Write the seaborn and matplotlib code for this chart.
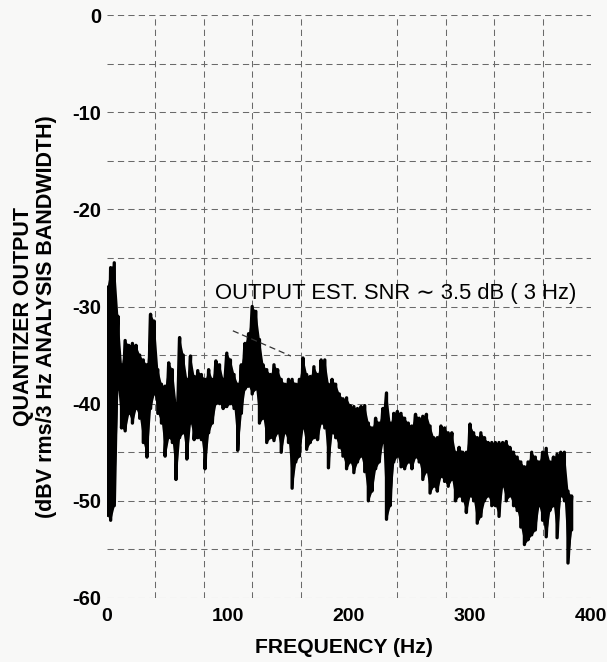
import numpy as np
import matplotlib
matplotlib.use("Agg")
import matplotlib.pyplot as plt
import seaborn as sns

# spectrum envelope, 3 Hz steps (Hz, dBV upper, dBV lower)
freq_hz = [0, 3, 6, 9, 12, 15, 18, 21, 24, 27, 30, 33, 36, 39, 42, 45, 48, 51, 54, 57,
           60, 63, 66, 69, 72, 75, 78, 81, 84, 87, 90, 93, 96, 99, 102, 105, 108, 111, 114, 117,
           120, 123, 126, 129, 132, 135, 138, 141, 144, 147, 150, 153, 156, 159, 162, 165, 168, 171, 174, 177,
           180, 183, 186, 189, 192, 195, 198, 201, 204, 207, 210, 213, 216, 219, 222, 225, 228, 231, 234, 237,
           240, 243, 246, 249, 252, 255, 258, 261, 264, 267, 270, 273, 276, 279, 282, 285, 288, 291, 294, 297,
           300, 303, 306, 309, 312, 315, 318, 321, 324, 327, 330, 333, 336, 339, 342, 345, 348, 351, 354, 357,
           360, 363, 366, 369, 372, 375, 378, 381, 384]
level_hi = [-28, -26, -25.5, -31, -36, -33.5, -34, -33.8, -34, -35, -35.5, -36, -30.8, -31.5, -36.5, -38, -38.2, -35.8, -36.5, -40,
            -33.2, -35, -37.5, -35.1, -37.2, -36.6, -37, -37.5, -36.5, -37.5, -35.6, -36, -37.5, -34.8, -35.5, -37, -38, -36, -33.8, -32.8,
            -30, -30.5, -33.4, -36, -36.5, -37, -36, -36.5, -37.5, -38, -37.5, -37.5, -38, -37.5, -35.3, -37, -37.2, -36.2, -37, -35.5,
            -35.5, -38, -37.5, -38, -39, -39.5, -39.4, -40.2, -40.3, -40.5, -40.3, -40.2, -42, -42.5, -41.5, -42, -40.5, -38.9, -42, -41,
            -40.8, -41, -41.5, -42, -42.3, -41.1, -41.5, -41.3, -41.1, -42.3, -43.5, -43.5, -42.3, -42.5, -43, -43, -45, -44.5, -45, -45,
            -42.1, -43, -43.5, -43, -43.5, -44, -44, -44, -44, -44, -43.9, -44.5, -45, -45.5, -46, -46.5, -46, -45, -45.5, -46,
            -45, -44.6, -46, -45.5, -45.2, -45, -45, -49, -49.5]
level_lo = [-51.5, -52, -50.5, -38.5, -42.5, -42.8, -41, -42, -40.5, -41.5, -44, -45.5, -40.5, -39, -41, -42, -45.4, -43.5, -44, -47.8,
            -43.5, -43, -45.7, -42, -43.7, -43.5, -43.7, -46.7, -43, -42, -40, -40, -40.5, -40.3, -40, -40.5, -44.8, -41, -38.5, -38.2,
            -39, -38.5, -42, -41.5, -44, -43.5, -43.8, -43, -45, -43, -44, -48.7, -46, -45.4, -42.5, -44.7, -44, -43.5, -43.7, -42,
            -42.5, -46.6, -43, -43.5, -44.5, -45.4, -46.7, -46, -47.1, -46, -45.4, -47, -50, -49, -46.7, -46, -44, -51.9, -50.5, -46,
            -45.4, -46.5, -46.7, -46, -46.7, -45.5, -46, -47.8, -47, -49.2, -48.5, -49, -47.5, -48, -48.5, -47.8, -50, -49.5, -50, -51.2,
            -49.5, -50, -52.3, -51.6, -50, -49.5, -50.5, -50.5, -51.6, -48.5, -50, -49.5, -50.5, -51, -52.7, -54.5, -54, -53.5, -53, -50.5,
            -52, -53.7, -51, -50.5, -53.8, -49.5, -50, -56.4, -53]

# dashed estimate line near the 120 Hz bump
est_hz = [104, 152]
est_db = [-32.5, -35.1]

note_text = "OUTPUT EST. SNR \u223c 3.5 dB ( 3 Hz)"
x_ticks = [0, 100, 200, 300, 400]
y_ticks = [0, -10, -20, -30, -40, -50, -60]

sns.set_style("white")
plt.rcParams["font.family"] = ["Liberation Sans", "DejaVu Sans"]
plt.rcParams["axes.unicode_minus"] = False
plt.rcParams["text.color"] = "black"
plt.rcParams["axes.labelcolor"] = "black"
plt.rcParams["xtick.color"] = "black"
plt.rcParams["ytick.color"] = "black"

bg = "#f8f8f7"
fig = plt.figure(figsize=(6.07, 6.62), dpi=100, facecolor=bg)
ax = fig.add_axes([0.1763, 0.0967, 0.7973, 0.8806])
ax.set_facecolor(bg)

# zigzag between upper and lower envelope, like the dense analyser trace
zig_x = np.repeat(freq_hz, 2)
zig_y = np.column_stack([level_hi, level_lo]).ravel()
ax.fill_between(freq_hz, level_lo, level_hi, color="black", lw=0)
sns.lineplot(x=zig_x, y=zig_y, sort=False, estimator=None, color="black", lw=2.4, ax=ax)
sns.lineplot(x=est_hz, y=est_db, sort=False, estimator=None, color="#333333", lw=0.9,
             dashes=False, linestyle=(0, (5, 3)), ax=ax)

ax.text(89, -28.7, note_text, fontsize=15.8, va="center", ha="left", color="black")

ax.set_xlim(0, 400)
ax.set_ylim(-60, 0)
ax.set_xticks(x_ticks)
ax.set_yticks(y_ticks)
ax.set_xticks(np.arange(0, 401, 40), minor=True)
ax.set_yticks(np.arange(-60, 1, 5), minor=True)
ax.tick_params(which="both", length=0)
ax.tick_params(axis="x", labelsize=14, pad=7, labelcolor="black")
ax.tick_params(axis="y", labelsize=14.5, pad=4, labelcolor="black")
for lab in ax.get_xticklabels() + ax.get_yticklabels():
    lab.set_fontweight("bold")

grid_kw = dict(color="#6a6a6a", lw=0.75, linestyle=(0, (6, 4)))
ax.xaxis.grid(False, which="major")
ax.xaxis.grid(True, which="minor", **grid_kw)
ax.yaxis.grid(True, which="both", **grid_kw)
ax.set_axisbelow(True)
for sp in ax.spines.values():
    sp.set_visible(False)

ax.set_xlabel("FREQUENCY (Hz)", fontsize=15.2, fontweight="bold", color="black")
ax.xaxis.set_label_coords(0.49, -0.068)
ax.set_ylabel("QUANTIZER OUTPUT\n(dBV rms/3 Hz ANALYSIS BANDWIDTH)", fontsize=15.5,
              fontweight="bold", linespacing=1.15, color="black")
ax.yaxis.set_label_coords(-0.103, 0.482)

fig.savefig("out.png", dpi=100, facecolor=fig.get_facecolor())
